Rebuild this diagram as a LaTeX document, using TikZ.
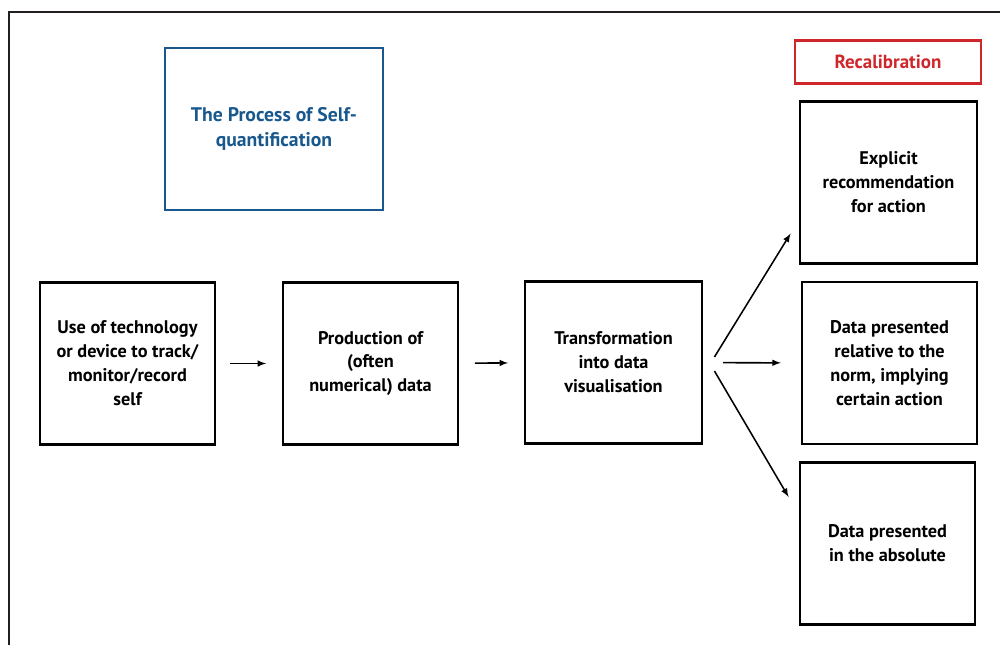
\documentclass[tikz,border=0pt]{standalone}
\usepackage{fontspec}
\setmainfont{PT Sans}
\usetikzlibrary{arrows}
\definecolor{titleblue}{RGB}{24,88,140}
\definecolor{recalred}{RGB}{206,38,42}
\definecolor{framegray}{RGB}{35,31,32}

\begin{document}
\begin{tikzpicture}[x=0.025cm,y=-0.025cm,
	box/.style={draw,line width=2pt,align=center,font=\fontsize{13}{17}\selectfont\bfseries,minimum width=4.375cm,minimum height=4.05cm,inner sep=0pt},
	flow/.style={->,>=latex,line width=1.1pt}]
	\useasboundingbox (0,0) rectangle (1000,645);
	
	% Moldura
	\draw[framegray,line width=1.6pt] (9,645) -- (9,12) -- (1000,12);
	
	% Titulo
	\node[box,draw=titleblue,text=titleblue,minimum width=5.45cm,font=\fontsize{14}{18}\selectfont\bfseries] (title) at (274,129) {The Process of Self-\\quantification};
	\node[box,draw=recalred,text=recalred,minimum width=4.65cm,minimum height=1.075cm,font=\fontsize{13.5}{17}\selectfont\bfseries] (recal) at (888,62) {Recalibration};
	
	% Etapas
	\node[box] (use) at (127.5,363.5) {Use of technology\\or device to track/\\monitor/record\\self};
	\node[box] (prod) at (370.5,363.5) {Production of\\(often\\numerical) data};
	\node[box,minimum width=4.425cm] (trans) at (613.5,362.5) {Transformation\\into data\\visualisation};
	
	% Recalibracao
	\node[box,minimum width=4.425cm] (explicit) at (888.5,182.5) {Explicit\\recommendation\\for action};
	\node[box] (norm) at (889.5,363) {Data presented\\relative to the\\norm, implying\\certain action};
	\node[box] (abs) at (887.5,543.5) {Data presented\\in the absolute};
	
	% Setas
	\draw[flow,shorten <=10,shorten >=11] (use) -- (prod);
	\draw[flow,shorten <=11,shorten >=11] (prod) -- (trans);
	\draw[flow,shorten <=14,shorten >=14] (trans) -- (norm);
	
	\coordinate (up0) at ([shift={(11,-5.5)}]trans.east);
	\coordinate (up1) at ([shift={(-8,51)}]explicit.west);
	\coordinate (dn0) at ([shift={(11,8.5)}]trans.east);
	\coordinate (dn1) at ([shift={(-10,-46.5)}]abs.west);
	\draw[flow] (up0) -- (up1);
	\draw[flow] (dn0) -- (dn1);
\end{tikzpicture}
\end{document}
